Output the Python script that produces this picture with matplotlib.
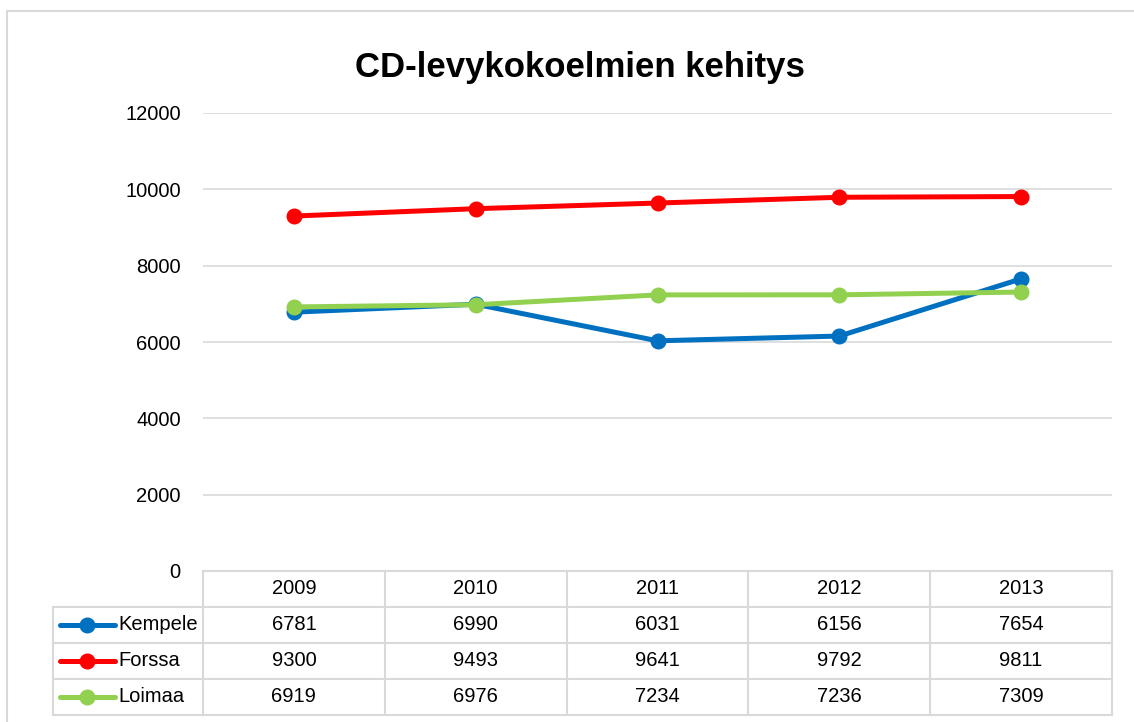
import matplotlib.pyplot as plt
from matplotlib.lines import Line2D
from matplotlib.patches import Rectangle

plt.rcParams["font.family"] = ["Liberation Sans", "DejaVu Sans"]

years = ["2009", "2010", "2011", "2012", "2013"]
kempele = [6781, 6990, 6031, 6156, 7654]
forssa = [9300, 9493, 9641, 9792, 9811]
loimaa = [6919, 6976, 7234, 7236, 7309]
series_names = ["Kempele", "Forssa", "Loimaa"]
series_colors = ["#0070C0", "#FF0000", "#92D050"]
yticks = [0, 2000, 4000, 6000, 8000, 10000, 12000]

W, H = 1134, 722
fig = plt.figure(figsize=(W / 100, H / 100), dpi=100)

def fx(px):
    return px / W

def fy(py):
    return 1 - py / H

# outer chart border
fig.patches.append(Rectangle((fx(7), fy(730)), fx(1140), fy(11) - fy(730),
                             transform=fig.transFigure, fill=False,
                             edgecolor="#D9D9D9", linewidth=1.5))

# plot area
ax = fig.add_axes([fx(203), fy(571), fx(1112) - fx(203), fy(113) - fy(571)])
x = list(range(len(years)))
for vals, name, col in zip([kempele, forssa, loimaa], series_names, series_colors):
    ax.plot(x, vals, color=col, linewidth=3.6, marker="o", markersize=10.5,
            solid_capstyle="round", label=name, zorder=3)
ax.set_xlim(-0.5, len(years) - 0.5)
ax.set_ylim(0, 12000)
ax.set_yticks(yticks)
ax.set_yticklabels([str(t) for t in yticks], fontsize=14.5)
ax.tick_params(axis="y", length=0, pad=16)
ax.set_xticks([])
for t in yticks[1:]:
    ax.axhline(t, color="#D9D9D9", linewidth=1.2, zorder=1)
for s in ax.spines.values():
    s.set_visible(False)

fig.text(fx(580), fy(67), "CD-levykokoelmien kehitys", ha="center", va="center",
         fontsize=25, fontweight="bold")

# data table under the plot
legend_w = 150 / 181.8
tab = fig.add_axes([fx(53), fy(715), fx(1112) - fx(53), fy(571) - fy(715)])
tab.set_xlim(-0.5 - legend_w, len(years) - 0.5)
tab.set_ylim(4, 0)
tab.axis("off")
gc = "#D9D9D9"
lw = 1.5
# header row lines
tab.plot([-0.5, len(years) - 0.5], [0, 0], color=gc, lw=lw, clip_on=False)
for r in range(1, 5):
    tab.plot([-0.5 - legend_w, len(years) - 0.5], [r, r], color=gc, lw=lw, clip_on=False)
tab.plot([-0.5 - legend_w] * 2, [1, 4], color=gc, lw=lw, clip_on=False)
for c in range(len(years) + 1):
    tab.plot([c - 0.5] * 2, [0, 4], color=gc, lw=lw, clip_on=False)

for i, yr in enumerate(years):
    tab.text(i, 0.5, yr, ha="center", va="center", fontsize=14.5)
for r, (vals, name, col) in enumerate(zip([kempele, forssa, loimaa], series_names, series_colors)):
    yc = r + 1.5
    for i, v in enumerate(vals):
        tab.text(i, yc, str(v), ha="center", va="center", fontsize=14.5)
    tab.add_line(Line2D([-1.287, -0.984], [yc, yc], color=col, lw=3.6, solid_capstyle="round"))
    tab.plot([-1.138], [yc], marker="o", markersize=10.5, color=col)
    tab.text(-0.9676, yc, name, ha="left", va="center", fontsize=14.5)

fig.savefig("out.png", dpi=100)
